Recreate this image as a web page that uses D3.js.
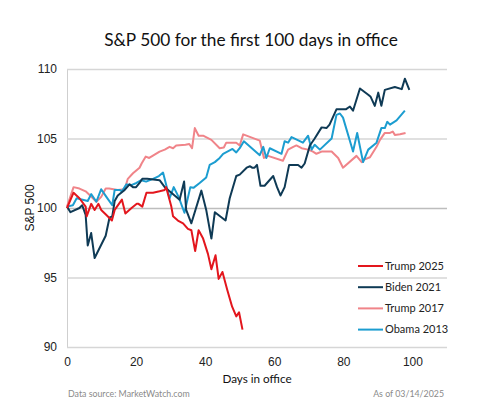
<!DOCTYPE html>
<html lang="en">
<meta charset="utf-8">
<head>
    <title>S&amp;P 500 for the first 100 days in office</title>
    <script src="https://d3js.org/d3.v7.min.js"></script>
    <style type="text/css">
        body { margin: 0; background: #fff; }
        .tick text { font-family: "Liberation Sans", Arial, sans-serif; font-size: 12px; fill: #222; }
        .lbl { font-family: Lato, "Open Sans", sans-serif; }
    </style>
</head>
<body>
<div id="chart"></div>
<script>
// data: day in office, index (day 0 = 100)
var trump25Days = [0, 1.9, 3.6, 5.4, 5.7, 7, 8, 9.1, 9.9, 11.4, 13, 13.8, 15.9, 16.9, 18.6, 20.2, 20.7, 21.8, 23, 24.9, 26.8, 28.3, 28.7, 30.2, 30.7, 32.1, 33.6, 35, 36, 37.1, 38.1, 39.4, 40.8, 41.8, 43, 43.9, 45, 46.4, 47.8, 49, 49.8, 50.8];
var trump25Vals = [100, 101.1, 100.7, 100.1, 99.4, 100.3, 99.86, 100.3, 99.86, 99.5, 99.1, 99.86, 100.6, 99.6, 99.98, 100.3, 100.3, 100.1, 101.1, 101.1, 101.2, 101.3, 101.5, 100.1, 99.4, 99.1, 98.9, 98.5, 98.4, 96.9, 98.4, 97.8, 96.7, 95.6, 96.6, 94.9, 95.4, 94.1, 92.9, 92.2, 92.5, 91.25];

var biden21Days = [0, 1, 3.6, 4.4, 5.4, 6, 7, 8, 11.2, 12.3, 13.1, 13.8, 14.7, 16.7, 18.1, 19.1, 20, 21, 21.8, 23.2, 26.8, 28.3, 29.7, 32.6, 33.9, 34.5, 36, 38.9, 40.3, 41.8, 42.8, 45.9, 47.1, 49, 50, 52, 53, 53.6, 54.3, 55, 56, 57.2, 59.7, 60.8, 61.8, 63, 64.3, 66.9, 67.9, 68.8, 70.3, 71.7, 73.7, 75.1, 76, 78, 80.7, 81.9, 82.8, 84.8, 87.2, 87.9, 89.1, 90.1, 91, 92, 94.9, 96.9, 97.8, 99.1];
var biden21Vals = [100.1, 99.7, 100, 100.2, 99.5, 97.3, 98.2, 96.4, 98.0, 99.3, 99.4, 100.5, 100.9, 101.3, 101.7, 101.5, 101.5, 101.8, 102.1, 102.1, 102.0, 101.5, 101.2, 100.6, 101.9, 99.86, 98.9, 101.25, 99.86, 97.8, 99.7, 99.1, 100.7, 102.3, 102.4, 102.9, 103.0, 102.9, 102.9, 103.1, 101.6, 101.6, 102.3, 101.5, 100.9, 101.5, 103.1, 103.1, 102.9, 103.2, 104.5, 105.0, 105.8, 105.75, 106.0, 107.1, 107.1, 107.3, 107.0, 108.6, 108.15, 108.0, 107.35, 108.3, 107.35, 108.5, 108.7, 108.55, 109.3, 108.5];

var trump17Days = [0, 1.9, 3.6, 5.4, 6.7, 8.5, 9.9, 11.2, 12.2, 14.7, 16.7, 17.6, 19.1, 21, 21.6, 22.8, 23.8, 26.8, 28.3, 29.7, 30.7, 31.6, 34.3, 35.4, 36.2, 37, 38.1, 39.4, 41.8, 44.2, 45.4, 46.1, 49, 50, 51, 55.8, 57, 58.2, 62.5, 64, 65.5, 66.4, 67.9, 69.8, 71.2, 72.2, 73.7, 76.6, 78.5, 79.9, 83.8, 85.3, 86.2, 87.7, 89.6, 90.6, 92, 93.5, 94.3, 94.9, 96.4, 98];
var trump17Vals = [100.1, 101.5, 101.4, 101.2, 100.9, 100.45, 100.8, 101.4, 101.4, 101.3, 101.35, 102.1, 102.5, 102.9, 103.2, 103.7, 103.6, 104.06, 104.2, 104.4, 104.3, 104.5, 104.55, 104.6, 104.3, 105.75, 105.2, 105.2, 104.9, 104.3, 104.35, 104.7, 104.7, 104.5, 105.3, 104.85, 103.6, 103.75, 103.4, 104.2, 104.4, 104.5, 104.3, 104.2, 104.06, 103.9, 104.06, 104.06, 103.6, 102.9, 103.75, 103.3, 103.5, 103.65, 104.4, 104.9, 105.4, 105.4, 105.5, 105.26, 105.3, 105.4];

var obama13Days = [0, 1.7, 2.8, 6, 7, 8.5, 9.9, 11.4, 13.1, 13.8, 15.2, 15.9, 17.2, 18.6, 20.1, 21.5, 22.9, 24.9, 26.6, 27.8, 29.7, 30.9, 32.3, 34, 35.7, 36.6, 38.4, 40.3, 41.3, 42.8, 44.2, 45.2, 47.9, 49, 50, 51.2, 55.8, 56.8, 57.7, 58.7, 62.1, 63, 64, 65, 68.3, 69.8, 70.8, 71.7, 73.2, 76.6, 78, 79, 79.9, 82.8, 84, 85.7, 87.2, 89.6, 91, 92, 92.7, 93.5, 95.4, 97.8];
var obama13Vals = [100.1, 100.2, 100.7, 100.5, 101.0, 100.45, 101.35, 100.8, 100.2, 101.3, 101.3, 101.2, 101.7, 101.65, 101.8, 102.0, 101.9, 102.1, 102.3, 102.55, 100.7, 101.5, 100.8, 99.66, 101.5, 101.45, 101.8, 102.2, 103.1, 103.3, 103.6, 103.9, 104.25, 104.0, 104.3, 104.8, 103.8, 104.4, 103.6, 104.3, 103.9, 104.8, 104.7, 105.1, 104.7, 105.2, 104.2, 104.55, 104.2, 105.0, 106.7, 106.8, 106.5, 104.06, 105.4, 103.3, 104.2, 104.7, 105.75, 105.75, 106.2, 106.0, 106.3, 107.0];

var seriesNames = ["Trump 2025", "Biden 2021", "Trump 2017", "Obama 2013"];
var seriesColors = ["#e3161d", "#0f3a55", "#f08489", "#1c9dd0"];
var xTicks = [0, 20, 40, 60, 80, 100];
var yTicks = [90, 95, 100, 105, 110];

var w = 480;
var h = 420;
var margin = {top: 69, right: 33, bottom: 73, left: 67};

var svg = d3.select("#chart")
    .append("svg")
    .attr("width", w)
    .attr("height", h);

var xScale = d3.scaleLinear()
    .domain([0, 110])
    .range([margin.left, w - margin.right]);

var yScale = d3.scaleLinear()
    .domain([90, 110])
    .range([h - margin.bottom, margin.top]);

// gridlines + y labels
var yAxis = d3.axisLeft(yScale)
    .tickValues(yTicks)
    .tickSize(-(w - margin.left - margin.right))
    .tickPadding(10);

svg.append("g")
    .attr("transform", "translate(" + margin.left + ",0)")
    .call(yAxis)
    .call(function(g) {
        g.select(".domain").attr("stroke", "#cfcfcf");
        g.selectAll(".tick line")
            .attr("stroke", function(d) { return d == 100 ? "#bdbdbd" : "#d6d6d6"; })
            .attr("stroke-width", 1.3);
    });

var xAxis = d3.axisBottom(xScale)
    .tickValues(xTicks)
    .tickSize(0)
    .tickPadding(10);

svg.append("g")
    .attr("transform", "translate(0," + (h - margin.bottom) + ")")
    .call(xAxis)
    .call(function(g) { g.select(".domain").remove(); });

// lines
var allDays = [trump25Days, biden21Days, trump17Days, obama13Days];
var allVals = [trump25Vals, biden21Vals, trump17Vals, obama13Vals];

var line = d3.line()
    .x(function(d) { return xScale(d[0]); })
    .y(function(d) { return yScale(d[1]); });

// draw back to front so Trump 2025 sits on top
[2, 3, 1, 0].forEach(function(i) {
    var pts = d3.zip(allDays[i], allVals[i]);
    svg.append("path")
        .datum(pts)
        .attr("fill", "none")
        .attr("stroke", seriesColors[i])
        .attr("stroke-width", 2)
        .attr("stroke-linejoin", "round")
        .attr("d", line);
});

// legend
var legend = svg.append("g")
    .attr("transform", "translate(358,266)");

seriesNames.forEach(function(name, i) {
    var row = legend.append("g").attr("transform", "translate(0," + (i * 21.2) + ")");
    row.append("line")
        .attr("x1", 0).attr("x2", 25)
        .attr("stroke", seriesColors[i])
        .attr("stroke-width", 2);
    row.append("text")
        .attr("class", "lbl")
        .attr("x", 27)
        .attr("dy", "0.35em")
        .style("font-size", "11px")
        .style("fill", "#222")
        .text(name);
});

// titles
svg.append("text")
    .attr("class", "lbl")
    .attr("x", 251)
    .attr("y", 46)
    .attr("text-anchor", "middle")
    .style("font-size", "17.3px")
    .style("fill", "#111")
    .text("S&P 500 for the first 100 days in office");

svg.append("text")
    .attr("class", "lbl")
    .attr("x", 257)
    .attr("y", 383)
    .attr("text-anchor", "middle")
    .style("font-size", "11.7px")
    .style("fill", "#111")
    .text("Days in office");

svg.append("text")
    .attr("transform", "translate(34," + yScale(100) + ") rotate(-90)")
    .attr("text-anchor", "middle")
    .style("font-family", "'Liberation Sans', Arial, sans-serif")
    .style("font-size", "12px")
    .style("fill", "#111")
    .text("S&P 500");

svg.append("text")
    .attr("class", "lbl")
    .attr("x", 68)
    .attr("y", 397)
    .style("font-size", "8.8px")
    .style("fill", "#8a8a8a")
    .text("Data source: MarketWatch.com");

svg.append("text")
    .attr("class", "lbl")
    .attr("x", 444)
    .attr("y", 397)
    .attr("text-anchor", "end")
    .style("font-size", "8.8px")
    .style("fill", "#8a8a8a")
    .text("As of 03/14/2025");
</script>
</body>
</html>
